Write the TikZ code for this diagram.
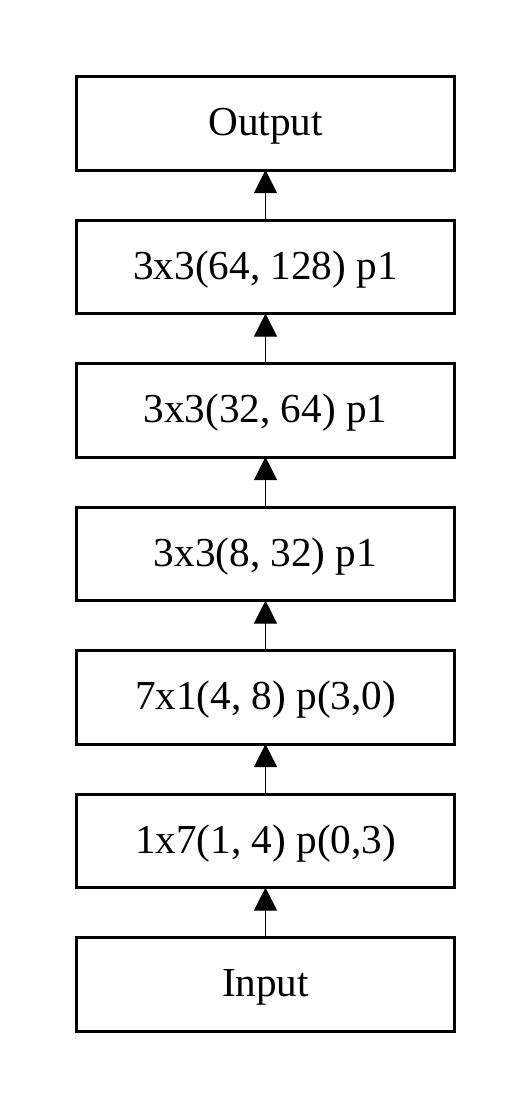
\documentclass[tikz,border=0pt]{standalone}
\usepackage{fontspec}
\setmainfont{Liberation Serif}
\usetikzlibrary{positioning,arrows.meta}
\begin{document}
\begin{tikzpicture}[
  layer/.style={draw,line width=1.5pt,minimum width=189.25pt,minimum height=46.75pt,
    inner sep=0pt,outer sep=0pt,text height=12.4pt,text depth=0pt,
    font=\fontsize{20.6}{24}\selectfont},
  flow/.style={line width=0.5pt,-{Triangle[length=11.5pt,width=11.5pt]}},
  node distance=25pt]
\useasboundingbox (0,0) rectangle (264.5pt,-554pt);
\node[layer] (out) at (132.75pt,-61.65pt) {Output};
\node[layer,below=of out] (c4) {3x3(64, 128) p1};
\node[layer,below=of c4] (c3) {3x3(32, 64) p1};
\node[layer,below=of c3] (c2) {3x3(8, 32) p1};
\node[layer,below=of c2] (c1) {7x1(4, 8) p(3,0)};
\node[layer,below=of c1] (c0) {1x7(1, 4) p(0,3)};
\node[layer,below=of c0] (in) {Input};
\draw[flow] (in) -- (c0);
\draw[flow] (c0) -- (c1);
\draw[flow] (c1) -- (c2);
\draw[flow] (c2) -- (c3);
\draw[flow] (c3) -- (c4);
\draw[flow] (c4) -- (out);
\end{tikzpicture}
\end{document}
